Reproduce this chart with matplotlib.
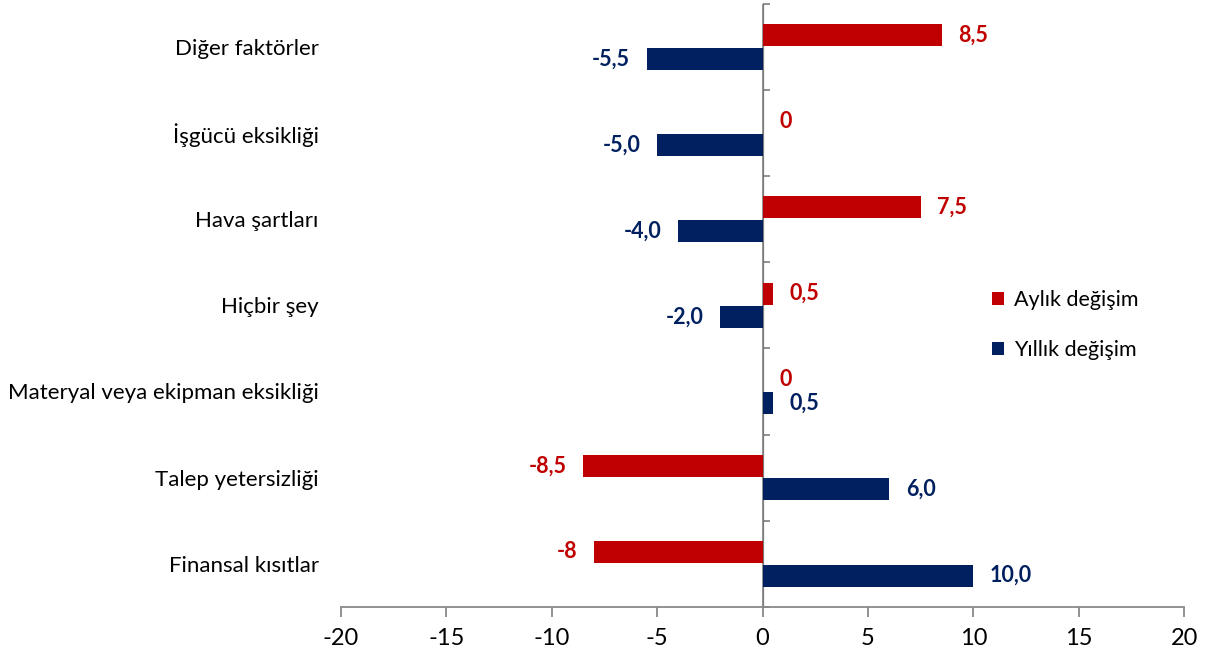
import matplotlib.pyplot as plt
import numpy as np

plt.rcParams['font.family'] = ['Lato', 'DejaVu Sans']

# data
categories = ['Diğer faktörler', 'İşgücü eksikliği', 'Hava şartları', 'Hiçbir şey',
              'Materyal veya ekipman eksikliği', 'Talep yetersizliği', 'Finansal kısıtlar']
aylik = [8.5, 0, 7.5, 0.5, 0, -8.5, -8]
yillik = [-5.5, -5.0, -4.0, -2.0, 0.5, 6.0, 10.0]
aylik_labels = ['8,5', '0', '7,5', '0,5', '0', '-8,5', '-8']
yillik_labels = ['-5,5', '-5,0', '-4,0', '-2,0', '0,5', '6,0', '10,0']
xticks = [-20, -15, -10, -5, 0, 5, 10, 15, 20]

RED = '#C00000'
NAVY = '#002060'
GRAY = '#898989'

fig = plt.figure(figsize=(12.07, 6.56), dpi=100)
ax = fig.add_axes([0.2825, 0.075, 0.6985, 0.919])

y = np.arange(len(categories))
h = 0.255
off = 0.137

bars_a = ax.barh(y - off, aylik, height=h, color=RED, label='Aylık değişim')
bars_y = ax.barh(y + off, yillik, height=h, color=NAVY, label='Yıllık değişim')

def put_labels(bars, vals, texts, color):
    for b, v, t in zip(bars, vals, texts):
        yc = b.get_y() + b.get_height() / 2
        if v < 0:
            ax.annotate(t, (v, yc), xytext=(-12, 0), textcoords='offset points',
                        ha='right', va='center', color=color, fontsize=15.5, fontweight='bold')
        else:
            ax.annotate(t, (v, yc), xytext=(12, 0), textcoords='offset points',
                        ha='left', va='center', color=color, fontsize=15.5, fontweight='bold')

put_labels(bars_a, aylik, aylik_labels, RED)
put_labels(bars_y, yillik, yillik_labels, NAVY)

ax.set_xlim(-20, 20)
ax.set_ylim(len(categories) - 0.5, -0.5)
ax.set_xticks(xticks)
ax.set_xticklabels([str(t) for t in xticks], fontsize=17)
ax.tick_params(axis='x', length=7, color=GRAY, width=1.3, pad=8)

# category names on the left, without tick marks
ax.set_yticks(y)
ax.set_yticklabels(categories, fontsize=16)
ax.tick_params(axis='y', length=0, pad=16)

for s in ['top', 'right', 'left']:
    ax.spines[s].set_visible(False)
ax.spines['bottom'].set_color(GRAY)
ax.spines['bottom'].set_linewidth(1.3)

# vertical axis at zero with category dividers
ax.axvline(0, color=GRAY, linewidth=1.3, zorder=0.5)
sec = ax.secondary_yaxis(0.5)
sec.set_yticks(np.arange(len(categories) + 1) - 0.5)
sec.set_yticklabels([])
sec.tick_params(axis='y', length=5, color=GRAY, width=1.3, direction='out')
sec.spines['left'].set_visible(False)

ax.legend(loc='center left', bbox_to_anchor=(0.806, 0.505), bbox_transform=fig.transFigure,
          frameon=False, fontsize=15.5, handlelength=0.55, handleheight=0.55,
          labelspacing=1.4, handletextpad=0.45)

fig.savefig('out.png', dpi=100)
